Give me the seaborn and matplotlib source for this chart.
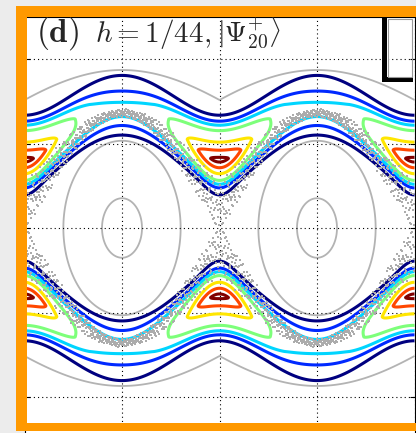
import numpy as np
import matplotlib
matplotlib.use("Agg")
import matplotlib.pyplot as plt
from matplotlib.patches import Rectangle
import seaborn as sns
import pandas as pd

# ---- panel text ---------------------------------------------------------
panel_tag = "(d)"
planck_label = "1/44"
state_label = r"|\Psi_{20}^{+}\rangle"

# ---- classical structure (period 2*pi in x) -------------------------------
gamma_torus = 0.25          # bending of the rotational tori
gamma_outer = 0.30          # bending of the outermost drawn torus
outer_torus = [1.515]       # its momentum above the hyperbolic column
libration_stiffness = 3.35  # aspect of the librations in the central island
central_tori = [0.415, 3.57]       # two librations inside the central island

# ---- Husimi density model of the symmetric island doublet ----------------
island_p = 0.80             # torus label of the island centre
island_rise = 0.50          # lift of the island ridge away from its centre
core_up = [0.125, 1.4]      # width / exponent above the ridge
core_dn = [0.100, 1.1]      # width / exponent below the ridge
core_phase = 8.0            # decay along the chain
band_logamp = [-1.81, -2.61]     # at island column, at central-island column
band_centre = [0.91, 0.98]
band_up = [[0.30, 3.0], [0.34, 1.6]]
band_dn = [[0.30, 3.0], [0.34, 1.6]]
husimi_levels = [-4.6, -3.4, -2.8, -2.2, -1.3, -0.6, 0.0]   # log density

# ---- chaotic layer along the island separatrix ---------------------------
layer_base = [0.22, 0.70]   # layer label at island column, added at x = 0
layer_width = [0.32, 0.07]
n_layer = 560

x_ticks = [-np.pi, 0, np.pi, 2 * np.pi, 3 * np.pi]
p_ticks = [-2, -1, 0, 1, 2]

# ------------------------------------------------------------------------
W, H, DPI = 416, 433, 100
sns.set_theme(style="white")
plt.rcParams["mathtext.fontset"] = "cm"
plt.rcParams["lines.scale_dashes"] = False
plt.rcParams["contour.negative_linestyle"] = "solid"

fig = plt.figure(figsize=(W / DPI, H / DPI), dpi=DPI)
fig.patch.set_facecolor("#ececec")

def fx(px):
    return px / W

def fy(py):
    return 1 - py / H

ax_l, ax_r, ax_t, ax_b = 24.5, 414.5, 16.75, 439.25
ax = fig.add_axes([fx(ax_l), fy(ax_b), fx(ax_r) - fx(ax_l), fy(ax_t) - fy(ax_b)])
ax.set_facecolor("white")

x = np.linspace(x_ticks[0], x_ticks[-1], 1401)
p = np.linspace(-2.5, 2.5, 901)
X, P = np.meshgrid(x, p)
Pa = np.abs(P)
c = (1 + np.cos(X)) / 2                      # 0 at island column, 1 at central island
P0 = np.sqrt(np.clip(Pa ** 2 - 4 * gamma_torus * c, 0, None))

def lerp(a, b, t):
    return a + (b - a) * t

# island core
di = P0 - (island_p + island_rise * c)
core_ln = np.where(di >= 0,
                   -(np.abs(di) / core_up[0]) ** core_up[1],
                   -(np.abs(di) / core_dn[0]) ** core_dn[1]) - core_phase * c
# band along the tori
lnB = lerp(band_logamp[0], band_logamp[1], c)
pb = lerp(band_centre[0], band_centre[1], c)
su, mu = lerp(band_up[0][0], band_up[1][0], c), lerp(band_up[0][1], band_up[1][1], c)
sd, md = lerp(band_dn[0][0], band_dn[1][0], c), lerp(band_dn[0][1], band_dn[1][1], c)
db = P0 - pb
band_ln = lnB - np.where(db >= 0, (np.abs(db) / su) ** mu, (np.abs(db) / sd) ** md)
ln_rho = np.log(np.exp(core_ln) + np.exp(band_ln))

# classical curves
xw = np.mod(X + np.pi, 2 * np.pi) - np.pi
F_lib = xw ** 2 + libration_stiffness * P ** 2
outer_label = np.sign(P) * np.sqrt(np.clip(Pa ** 2 - 4 * gamma_outer * np.sqrt(c), 0, None))

gray = "#b3b3b3"
ax.contour(X, P, F_lib, levels=central_tori, colors=gray, linewidths=1.3,
           linestyles="solid", zorder=1.5)
ax.contour(X, P, outer_label, levels=[-outer_torus[0], outer_torus[0]],
           colors=gray, linewidths=1.3, linestyles="solid", zorder=1.5)

jet7 = plt.get_cmap("jet")(np.linspace(0, 1, len(husimi_levels)))
ax.contour(X, P, ln_rho, levels=husimi_levels, colors=jet7, linewidths=2.2,
           linestyles="solid", zorder=2)

# chaotic layer points (low-discrepancy sampling of the separatrix layer)
def radical_inverse(n, base):
    n = np.asarray(n, dtype=np.int64)
    inv, f = np.zeros(n.shape), 1.0 / base
    while np.any(n > 0):
        inv += f * (n % base)
        n = n // base
        f /= base
    return inv

k = np.arange(1, n_layer + 1)
lx = -np.pi + 2 * np.pi * radical_inverse(k, 2)
lu = 2 * radical_inverse(k, 3) - 1
lu = np.sign(lu) * np.abs(lu) ** 1.3
lc = (1 + np.cos(lx)) / 2
v = layer_base[0] + layer_base[1] * np.sqrt(lc) + lerp(layer_width[0], layer_width[1], lc) * lu
p_sq = np.sign(v) * v ** 2 + 4 * gamma_torus * lc    # may dip just inside the separatrix
keep = p_sq >= 0
lx, lp = lx[keep], np.sqrt(p_sq[keep])
pts = []
for shift in (0, 2 * np.pi, 4 * np.pi):
    for sgn in (1, -1):
        pts.append(pd.DataFrame({"x": sgn * lx + shift, "p": sgn * lp}))
layer = pd.concat(pts, ignore_index=True)
layer = layer[(layer.x > x_ticks[0]) & (layer.x < x_ticks[-1])]
sns.scatterplot(data=layer, x="x", y="p", ax=ax, color="#acacac", s=2.6,
                marker="s", linewidth=0, zorder=3, legend=False)

# dotted grid
for xv in x_ticks:
    ax.axvline(xv, color="black", lw=0.8, ls=(0, (0.8, 2.2)), zorder=1.9)
for pv in p_ticks:
    ax.axhline(pv, color="black", lw=0.8, ls=(0, (0.8, 2.2)), zorder=1.9)

ax.set_xlim(x_ticks[0], x_ticks[-1])
ax.set_ylim(-2.5, 2.5)
ax.set_xticks([])
ax.set_yticks(p_ticks)
ax.set_yticklabels([])
ax.set_xlabel(""); ax.set_ylabel("")
ax.tick_params(axis="y", which="both", direction="in", length=3.6, width=0.8,
               color="black", left=True, right=True, labelleft=False)
for s in ax.spines.values():
    s.set_color("black"); s.set_linewidth(0.8); s.set_visible(True)

# panel title, three pieces on a common baseline
def ax_xy(px, py):
    return (px - ax_l) / (ax_r - ax_l), 1 - (py - ax_t) / (ax_b - ax_t)

baseline = 42
for px, txt, size in [(36, r"$\mathbf{" + panel_tag + r"}$", 24),
                      (95, r"$h=" + planck_label + r"$" + r"$\mathbf{,}$", 21),
                      (217, r"$" + state_label + r"$", 20)]:
    ax.text(*ax_xy(px, baseline), txt, transform=ax.transAxes, fontsize=size,
            ha="left", va="baseline", zorder=6)

# inset frame at the upper right
def px_rect(x0, y0, x1, y1, **kw):
    r = Rectangle((fx(x0), fy(y1)), fx(x1) - fx(x0), fy(y0) - fy(y1),
                  transform=fig.transFigure, **kw)
    fig.add_artist(r)

px_rect(382, 17, 387, 82, facecolor="black", edgecolor="none", zorder=4)
px_rect(382, 77, 413, 82, facecolor="black", edgecolor="none", zorder=4)
px_rect(387.5, 19, 412, 77, facecolor="none", edgecolor="#9a9a9a", lw=0.8, zorder=4)

# orange highlight frame
orange = "#ff9900"
px_rect(16, 6, 27, 431, facecolor=orange, edgecolor="none", zorder=10)
px_rect(16, 6, 416, 17, facecolor=orange, edgecolor="none", zorder=10)
px_rect(16, 423, 416, 431, facecolor=orange, edgecolor="none", zorder=10)

fig.savefig("out.png", dpi=DPI, facecolor=fig.get_facecolor())
